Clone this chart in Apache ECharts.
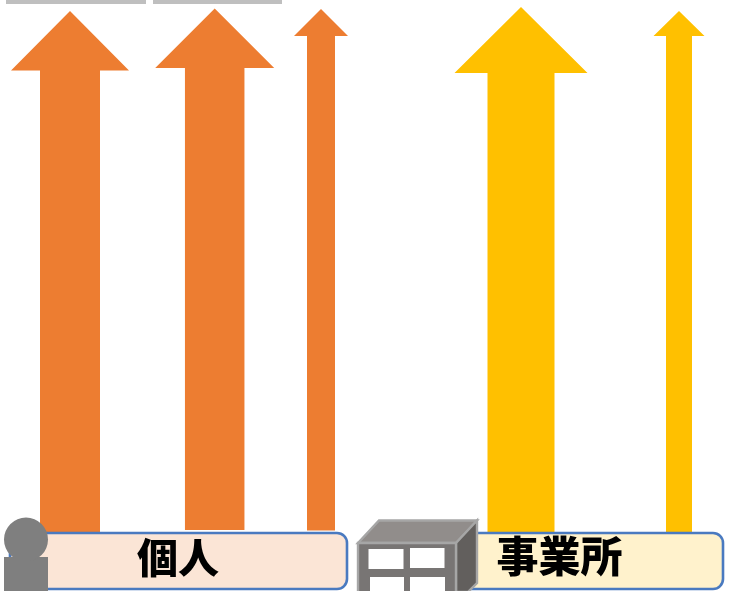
<!DOCTYPE html>
<html><head><meta charset="utf-8">
<style>html,body{margin:0;padding:0;background:#fff}#c{width:744px;height:591px}</style>
<script src="https://cdn.jsdelivr.net/npm/echarts@6/dist/echarts.min.js"></script>
</head><body><div id="c"></div>
<script>
// Data (heights measured up from the bottom of the picture, in picture units)
const arrowNames = ['個人1','個人2','個人3','事業所1','事業所2'];
const arrowTips  = [580, 582.5, 582, 584, 580];
const arrowBases = [59, 61, 60.5, 59, 59];
const groupLabels = ['個人','事業所'];

// Layout and style
const arrowLayout = [
  {cx:70,   head:118, shaft:60, neck:520.5, color:'#ed7d31'},
  {cx:214.7,head:119, shaft:59.5, neck:523, color:'#ed7d31'},
  {cx:321,  head:54,  shaft:28, neck:555, color:'#ed7d31'},
  {cx:521,  head:133, shaft:67, neck:518, color:'#ffc000'},
  {cx:679,  head:51,  shaft:26, neck:555, color:'#ffc000'}
];
const W=744,H=591;
const chart = echarts.init(document.getElementById('c'),null,{renderer:'canvas'});
chart.setOption({
  animation:false,
  grid:{left:0,right:0,top:0,bottom:0},
  xAxis:{type:'value',min:0,max:W,show:false},
  yAxis:{type:'value',min:0,max:H,show:false},
  series:[{
    type:'custom',
    coordinateSystem:'cartesian2d',
    z:2,
    clip:false,
    data:arrowNames.map((n,i)=>({name:n,value:[arrowLayout[i].cx,arrowTips[i],arrowBases[i]]})),
    encode:{x:0,y:[1,2]},
    renderItem(params,api){
      const l=arrowLayout[params.dataIndex];
      const tip=api.coord([api.value(0),api.value(1)]);
      const base=api.coord([api.value(0),api.value(2)]);
      const neck=api.coord([api.value(0),l.neck]);
      const hh=api.size([l.head,0])[0]/2, sh=api.size([l.shaft,0])[0]/2;
      const x=tip[0];
      return {type:'polygon',shape:{points:[
        [x,tip[1]],[x+hh,neck[1]],[x+sh,neck[1]],[x+sh,base[1]],
        [x-sh,base[1]],[x-sh,neck[1]],[x-hh,neck[1]]]},
        style:{fill:l.color}};
    }
  }],
  graphic:{elements:[
    {type:'rect',z:1,shape:{x:6,y:-1,width:140,height:5},style:{fill:'#bfbfbf'}},
    {type:'rect',z:1,shape:{x:153,y:-1,width:129,height:5},style:{fill:'#bfbfbf'}},
    {type:'rect',z:5,shape:{x:10,y:533,width:337,height:56,r:10},style:{fill:'#fbe5d6',stroke:'#4a7ac0',lineWidth:2.6}},
    {type:'rect',z:5,shape:{x:440,y:533,width:283,height:56,r:10},style:{fill:'#fff2cc',stroke:'#4a7ac0',lineWidth:2.6}},
    {type:'text',z:6,style:{text:groupLabels[0],x:178,y:557,align:'center',verticalAlign:'middle',fill:'#000',font:'900 41px "Noto Sans CJK JP"'}},
    {type:'text',z:6,style:{text:groupLabels[1],x:559.5,y:556,align:'center',verticalAlign:'middle',fill:'#000',font:'900 42px "Noto Sans CJK JP"'}},
    {type:'rect',z:7,shape:{x:4,y:557,width:44,height:34},style:{fill:'#7f7f7f'}},
    {type:'circle',z:7,shape:{cx:26,cy:539.5,r:22},style:{fill:'#7f7f7f'}},
    {type:'polygon',z:8,shape:{points:[[358,543],[379,520.5],[477,520.5],[456,543]]},style:{fill:'#918d8b',stroke:'#a6a6a6',lineWidth:2.4}},
    {type:'polygon',z:8,shape:{points:[[456,543],[477,520.5],[477,583],[468,592],[456,592]]},style:{fill:'#625f5d',stroke:'#a6a6a6',lineWidth:2.4}},
    {type:'rect',z:8,shape:{x:358,y:543,width:98,height:50},style:{fill:'#787574',stroke:'#a6a6a6',lineWidth:2.4}},
    {type:'rect',z:9,shape:{x:368.5,y:549,width:35,height:20},style:{fill:'#fff'}},
    {type:'rect',z:9,shape:{x:410,y:548,width:34.5,height:20},style:{fill:'#fff'}},
    {type:'rect',z:9,shape:{x:370,y:577,width:34,height:15},style:{fill:'#fff'}},
    {type:'rect',z:9,shape:{x:410,y:577,width:35,height:15},style:{fill:'#fff'}}
  ]}
});
</script></body></html>
